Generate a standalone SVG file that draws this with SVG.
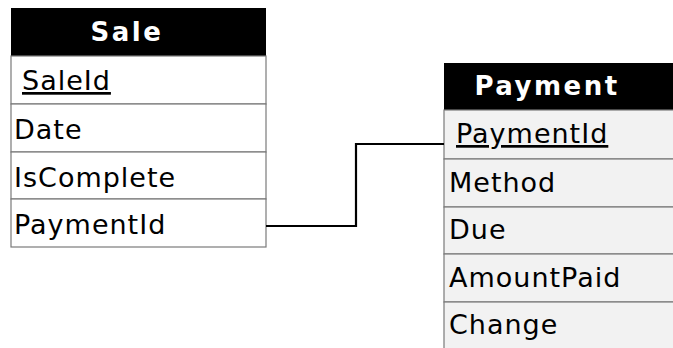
<svg xmlns="http://www.w3.org/2000/svg" width="673" height="348" viewBox="0 0 673 348">
<style>
.hdr{fill:#000}
.row{stroke:#7a7a7a;stroke-width:1.2}
.sale{fill:#fff}
.pay{fill:#f2f2f2}
.ht{font-family:"DejaVu Sans",sans-serif;font-weight:bold;font-size:26px;fill:#fff;letter-spacing:2.5px;text-anchor:middle}
.ft{font-family:"DejaVu Sans",sans-serif;font-size:27px;fill:#000;letter-spacing:1px}
.key{text-decoration:underline}
.conn{fill:none;stroke:#000;stroke-width:2.2}
</style>
<rect width="673" height="348" fill="#fff"/>
<g id="Sale">
  <rect class="hdr" x="11" y="8" width="255" height="48"/>
  <text class="ht" x="127" y="41">Sale</text>
  <rect class="row sale" x="11" y="56" width="255" height="48"/>
  <rect class="row sale" x="11" y="104" width="255" height="48"/>
  <rect class="row sale" x="11" y="152" width="255" height="47"/>
  <rect class="row sale" x="11" y="199" width="255" height="48"/>
  <text class="ft key" x="22" y="90">SaleId</text>
  <text class="ft" x="14" y="139">Date</text>
  <text class="ft" x="14" y="187">IsComplete</text>
  <text class="ft" x="14" y="234">PaymentId</text>
</g>
<g id="Payment">
  <rect class="hdr" x="444" y="63" width="232" height="47"/>
  <text class="ht" x="547" y="95">Payment</text>
  <rect class="row pay" x="444" y="110" width="232" height="49"/>
  <rect class="row pay" x="444" y="159" width="232" height="48"/>
  <rect class="row pay" x="444" y="207" width="232" height="47"/>
  <rect class="row pay" x="444" y="254" width="232" height="48"/>
  <rect class="row pay" x="444" y="302" width="232" height="50"/>
  <text class="ft key" x="456" y="143">PaymentId</text>
  <text class="ft" x="449" y="192">Method</text>
  <text class="ft" x="449" y="239">Due</text>
  <text class="ft" x="449" y="287">AmountPaid</text>
  <text class="ft" x="449" y="334">Change</text>
</g>
<g id="connectors">
  <path class="conn" d="M266 226 H356 V144 H444"/>
</g>
</svg>
